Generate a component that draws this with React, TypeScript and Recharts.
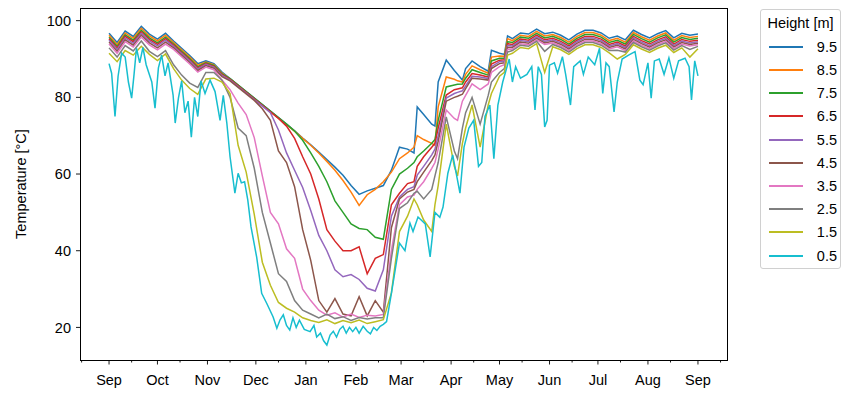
import { LineChart, Line, XAxis, YAxis } from "recharts";

const FONT = '"Liberation Sans", Arial, Helvetica, sans-serif';

// days since 1 Sep (shared grid for the upper heights)
const days = [
  0, 5, 10, 15, 20, 25, 30, 35, 40, 45, 50, 55, 60, 65, 70, 75, 80, 85, 90, 95,
  100, 105, 110, 115, 120, 125, 130, 135, 140, 145, 150, 155, 160, 165, 170, 175, 180, 185,
  189, 191, 195, 200, 202, 204, 209, 214, 216, 219, 221, 225, 230, 235, 237, 242, 245, 247,
  250, 255, 260, 265, 270, 275, 280, 285, 290, 295, 300, 305, 310, 315, 320, 325, 330, 335,
  340, 345, 350, 355, 360, 365,
];

const h95 = [
  96.7, 94.3, 97.3, 95.9, 98.5, 96.5, 95.2, 96.7, 94.7, 92.8, 90.9, 88.8, 89.5, 88.8, 86.6, 84.9, 83.2, 81.5, 79.8, 78.1,
  76.4, 74.7, 73.0, 71.3, 69.4, 67.6, 65.7, 63.8, 61.8, 59.7, 57.0, 54.7, 55.6, 56.3, 57.0, 61.0, 67.0, 66.5,
  65.5, 77.5, 75.5, 73.0, 72.5, 84.0, 89.7, 87.0, 86.0, 84.5, 87.5, 89.5, 88.0, 86.8, 92.3, 91.5, 91.2, 96.0,
  95.3, 96.8, 96.5, 97.8, 96.6, 97.0, 96.2, 95.0, 96.5, 97.5, 97.5, 96.8, 95.4, 96.0, 95.0, 97.5, 96.4, 95.5,
  96.6, 97.4, 95.5, 96.7, 96.2, 96.5,
];
const h85 = [
  96.2, 93.8, 96.8, 95.4, 98.0, 96.0, 94.7, 96.2, 94.3, 92.4, 90.5, 88.4, 89.2, 88.5, 86.3, 84.8, 83.1, 81.4, 79.7, 78.0,
  76.3, 74.6, 72.9, 71.2, 69.3, 67.5, 65.5, 63.3, 61.0, 58.3, 55.3, 51.8, 54.6, 56.0, 58.0, 60.5, 64.0, 65.5,
  67.0, 70.0, 69.0, 68.0, 67.5, 77.5, 85.3, 84.7, 84.3, 84.0, 86.0, 88.2, 87.2, 86.3, 90.5, 90.8, 90.7, 95.3,
  94.8, 96.2, 95.9, 97.2, 96.0, 96.4, 95.6, 94.4, 95.9, 96.9, 96.9, 96.2, 94.8, 95.4, 94.4, 96.9, 95.8, 94.9,
  96.0, 96.8, 94.9, 96.1, 95.6, 95.9,
];
const h75 = [
  95.7, 93.3, 96.3, 94.9, 97.5, 95.5, 94.2, 95.7, 93.9, 92.0, 90.1, 88.0, 89.0, 88.3, 86.1, 84.9, 83.2, 81.5, 79.8, 78.1,
  76.4, 74.7, 73.0, 71.2, 68.8, 65.5, 62.0, 58.0, 53.0, 50.0, 47.0, 45.8, 45.5, 43.5, 43.0, 56.0, 60.0, 61.5,
  63.0, 64.5, 66.0, 68.0, 69.0, 74.0, 82.7, 83.2, 83.4, 83.5, 85.0, 87.2, 86.5, 85.8, 89.5, 90.2, 90.2, 94.5,
  94.3, 95.7, 95.4, 96.7, 95.5, 95.9, 95.1, 93.9, 95.4, 96.4, 96.4, 95.7, 94.3, 94.9, 93.9, 96.4, 95.3, 94.4,
  95.5, 96.3, 94.4, 95.6, 95.1, 95.4,
];
const h65 = [
  95.3, 92.9, 95.9, 94.5, 97.1, 95.1, 93.8, 95.3, 93.6, 91.7, 89.8, 87.7, 88.8, 88.1, 85.9, 84.7, 83.0, 81.3, 79.6, 77.9,
  76.2, 74.5, 72.5, 69.3, 64.5, 60.0, 53.5, 45.5, 42.5, 40.0, 40.0, 41.0, 34.0, 38.0, 39.0, 52.0, 55.0, 57.5,
  58.0, 62.0, 64.5, 67.0, 68.0, 72.0, 80.6, 82.0, 82.2, 82.5, 84.0, 86.2, 85.8, 85.3, 88.7, 89.7, 89.8, 94.0,
  93.8, 95.2, 94.9, 96.2, 95.0, 95.4, 94.6, 93.4, 94.9, 95.9, 95.9, 95.2, 93.8, 94.4, 93.4, 95.9, 94.8, 93.9,
  95.0, 95.8, 93.9, 95.1, 94.6, 94.9,
];
const h55 = [
  94.9, 92.5, 95.5, 94.1, 96.7, 94.7, 93.4, 94.9, 93.3, 91.4, 89.5, 87.4, 88.6, 87.9, 85.7, 84.5, 82.8, 81.1, 79.4, 77.7,
  76.0, 71.5, 65.5, 61.0, 56.5, 50.5, 44.0, 40.0, 35.0, 33.2, 33.8, 32.5, 30.2, 29.5, 35.0, 49.0, 54.0, 56.0,
  56.7, 59.7, 62.0, 65.0, 66.5, 70.0, 79.8, 81.0, 81.3, 81.7, 83.0, 85.5, 85.3, 84.9, 88.0, 89.3, 89.4, 93.5,
  93.4, 94.8, 94.5, 95.8, 94.6, 95.0, 94.2, 93.0, 94.5, 95.5, 95.5, 94.8, 93.4, 94.0, 93.0, 95.5, 94.4, 93.5,
  94.6, 95.4, 93.5, 94.7, 94.2, 94.5,
];
const h45 = [
  94.4, 92.0, 95.0, 93.6, 96.2, 94.2, 92.9, 94.4, 92.9, 91.0, 89.1, 87.0, 88.3, 87.6, 85.4, 84.3, 82.6, 80.9, 79.2, 77.0,
  74.0, 66.0, 63.0, 56.7, 45.5, 37.5, 27.0, 24.0, 27.5, 23.5, 23.0, 28.0, 23.0, 27.0, 24.0, 46.0, 53.5, 55.3,
  56.0, 58.0, 60.5, 63.5, 65.0, 68.5, 79.0, 80.0, 80.3, 80.8, 82.3, 85.0, 84.8, 84.5, 87.5, 88.8, 89.0, 93.0,
  93.0, 94.4, 94.1, 95.4, 94.2, 94.6, 93.8, 92.6, 94.1, 95.1, 95.1, 94.4, 93.0, 93.6, 92.6, 95.1, 94.0, 93.1,
  94.2, 95.0, 93.1, 94.3, 93.8, 94.1,
];
const h35 = [
  93.9, 91.5, 94.5, 93.1, 95.7, 93.7, 92.4, 93.9, 92.5, 90.6, 88.7, 86.6, 87.9, 87.2, 84.5, 82.0, 78.5, 75.5, 69.5, 59.5,
  50.0, 47.0, 40.5, 38.0, 30.0, 27.0, 24.5, 23.2, 23.8, 22.7, 23.5, 22.6, 23.2, 23.0, 23.4, 40.0, 52.0, 54.0,
  54.5, 56.0, 58.0, 61.5, 63.0, 66.5, 76.7, 74.5, 74.0, 79.0, 80.5, 83.5, 82.0, 83.5, 86.5, 88.0, 88.5, 92.5,
  92.6, 94.0, 93.7, 95.0, 93.8, 94.2, 93.4, 92.2, 93.7, 94.7, 94.7, 94.0, 92.6, 93.2, 92.2, 94.7, 93.6, 92.7,
  93.8, 94.6, 92.7, 93.9, 93.4, 93.7,
];
const h25 = [
  92.9, 90.5, 93.5, 92.1, 94.7, 92.0, 90.6, 92.2, 88.5, 85.8, 83.7, 82.6, 86.5, 86.5, 84.5, 80.0, 72.0, 70.0, 61.5, 50.0,
  42.0, 34.0, 32.0, 27.0, 24.5, 23.5, 22.5, 23.5, 22.3, 22.8, 21.8, 22.6, 22.2, 22.5, 22.5, 38.0, 51.0, 52.5,
  55.0, 55.5, 53.5, 56.0, 59.5, 63.0, 74.9, 66.0, 64.0, 72.0, 76.0, 80.0, 73.0, 80.5, 84.0, 86.5, 87.5, 91.8,
  92.2, 93.6, 93.3, 94.6, 92.0, 93.8, 93.0, 91.8, 93.3, 94.3, 94.3, 93.6, 92.2, 92.3, 91.8, 94.3, 93.2, 92.3,
  93.4, 94.2, 92.3, 93.5, 92.5, 93.3,
];
const h15 = [
  91.5, 89.3, 92.2, 91.0, 93.3, 91.2, 89.6, 91.3, 87.5, 84.5, 82.3, 80.8, 84.8, 85.0, 84.0, 81.0, 67.5, 60.5, 49.5, 37.0,
  31.0, 26.5, 25.0, 24.0, 22.5, 21.8, 21.3, 22.0, 21.0, 21.8, 21.2, 21.9, 21.0, 21.5, 22.0, 29.0, 45.0, 49.0,
  53.5, 52.0, 48.0, 45.0, 52.0, 57.0, 73.0, 62.0, 59.5, 68.0, 72.0, 78.0, 67.0, 78.0, 81.0, 85.5, 86.5, 91.0,
  91.5, 93.0, 92.7, 94.0, 86.5, 93.2, 92.4, 91.2, 92.7, 93.7, 93.7, 93.0, 91.6, 90.0, 91.2, 93.7, 92.6, 91.7,
  92.8, 93.6, 91.7, 92.9, 90.5, 92.7,
];

// 0.5 m is noisier, so it has its own, denser day list
const cyanDays = [
  0, 1.6, 3.7, 5.6, 7.8, 10, 12, 14, 15.5, 17, 19, 21, 23, 26.5, 28.5, 30.6, 32.6, 34.7, 36.6, 39.7,
  41, 43, 45, 47, 49, 51, 53, 55, 57, 59.5, 62.6, 65.7, 68.8, 70.8, 73, 75, 78, 80, 82, 84,
  86, 88, 91.5, 94.6, 97.7, 101.7, 104, 106, 108, 110, 112, 114, 116, 118, 121, 124.6, 127, 128.7, 131, 133,
  135, 137, 139, 141, 143, 145, 147, 149, 151, 153, 155, 157.5, 160, 162, 164, 166, 168, 170, 172, 175,
  177, 180, 183.4, 186.5, 188.4, 191.5, 196, 199, 202, 205, 207, 210, 213, 217.5, 220, 223, 226, 229, 231, 233,
  236, 238.5, 241, 244, 246, 248, 250, 252, 255, 259, 262, 264, 266, 268, 270, 271.5, 273, 276, 278, 281,
  283, 286, 288, 292, 294, 297, 301, 304, 306, 308, 310, 313, 315, 318, 322, 326, 329, 331, 334, 336,
  338, 341, 344, 347, 350, 353, 357, 359.5, 361, 363, 365,
];
const cyanTemps = [
  88.8, 86.3, 75.0, 85.5, 91.5, 90.5, 84.0, 79.8, 86.0, 92.8, 89.0, 93.0, 88.5, 84.0, 77.2, 87.7, 91.0, 85.6, 89.0, 80.6,
  73.3, 79.8, 84.3, 76.0, 79.0, 69.6, 80.0, 75.0, 84.3, 81.0, 84.5, 81.5, 74.0, 80.5, 73.3, 64.5, 55.0, 60.2, 57.7, 58.0,
  53.2, 46.2, 38.3, 28.9, 26.3, 22.7, 19.8, 22.0, 23.3, 20.5, 19.3, 22.5, 20.0, 21.9, 19.5, 18.9, 20.5, 17.5, 18.5, 16.5,
  15.4, 18.0, 19.0, 17.5, 19.5, 20.3, 18.5, 20.0, 18.9, 20.0, 18.5, 20.3, 19.0, 18.3, 20.0, 19.2, 20.3, 20.8, 21.5, 28.9,
  34.1, 42.0, 40.0, 47.2, 45.0, 48.8, 47.0, 38.4, 50.0, 48.7, 51.4, 60.2, 65.0, 55.0, 67.0, 72.0, 74.0, 62.0, 63.0, 75.0,
  78.0, 64.0, 78.0, 84.0, 87.0, 90.0, 84.0, 88.0, 85.0, 86.0, 88.0, 76.7, 88.0, 86.0, 72.3, 74.0, 88.4, 89.0, 86.3, 90.6,
  86.0, 78.0, 88.0, 89.5, 86.0, 90.5, 88.5, 92.8, 81.0, 89.0, 88.0, 76.2, 84.0, 90.0, 91.0, 91.9, 84.5, 83.3, 89.0, 79.8,
  89.5, 90.0, 86.0, 90.3, 85.0, 89.5, 90.2, 88.0, 79.3, 89.5, 85.6,
];

const monthDays = [0, 30, 61, 91, 122, 153, 181, 212, 242, 273, 303, 334, 365];
const monthLabels = ["Sep", "Oct", "Nov", "Dec", "Jan", "Feb", "Mar", "Apr", "May", "Jun", "Jul", "Aug", "Sep"];
const midMonthDays = [-17, 14, 44, 75, 105, 136, 167, 195, 226, 256, 287, 317, 348, 379];
const tempTicks = [20, 40, 60, 80, 100];

const series = [
  { key: "h95", label: "9.5", color: "#1f77b4", values: h95 },
  { key: "h85", label: "8.5", color: "#ff7f0e", values: h85 },
  { key: "h75", label: "7.5", color: "#2ca02c", values: h75 },
  { key: "h65", label: "6.5", color: "#d62728", values: h65 },
  { key: "h55", label: "5.5", color: "#9467bd", values: h55 },
  { key: "h45", label: "4.5", color: "#8c564b", values: h45 },
  { key: "h35", label: "3.5", color: "#e377c2", values: h35 },
  { key: "h25", label: "2.5", color: "#7f7f7f", values: h25 },
  { key: "h15", label: "1.5", color: "#bcbd22", values: h15 },
];
const cyan = { key: "h05", label: "0.5", color: "#17becf" };
const legendItems = [...series, cyan];

// merge both day lists into one table for the chart
const rowMap = new Map<number, any>();
days.forEach((d, i) => {
  const row = rowMap.get(d) || { day: d };
  series.forEach((s) => {
    row[s.key] = s.values[i];
  });
  rowMap.set(d, row);
});
cyanDays.forEach((d, i) => {
  const row = rowMap.get(d) || { day: d };
  row[cyan.key] = cyanTemps[i];
  rowMap.set(d, row);
});
const rows = Array.from(rowMap.values()).sort((a, b) => a.day - b.day);

const allTicks = [...monthDays, ...midMonthDays].sort((a, b) => a - b);

function MonthTick(props: any) {
  const { x, y, payload } = props;
  const idx = monthDays.indexOf(payload.value);
  const major = idx >= 0;
  return (
    <g>
      <line x1={x} y1={y} x2={x} y2={y + (major ? 4.5 : 2.5)} stroke="#000" strokeWidth={0.9} />
      {major && (
        <text x={x} y={y + 25} textAnchor="middle" fill="#000" fontSize={14.5} fontFamily={FONT}>
          {monthLabels[idx]}
        </text>
      )}
    </g>
  );
}

export default function App() {
  return (
    <div style={{ position: "absolute", left: 0, top: 0, width: 844, height: 394, background: "#fff" }}>
      <LineChart width={844} height={394} data={rows} margin={{ top: 8, right: 117, bottom: 0, left: 0 }}>
        <XAxis
          dataKey="day"
          type="number"
          domain={[-18, 383]}
          ticks={allTicks}
          interval={0}
          height={34}
          axisLine={false}
          tickLine={false}
          tickSize={0}
          tickMargin={0}
          tick={<MonthTick />}
        />
        <YAxis
          type="number"
          domain={[11.5, 103.3]}
          ticks={tempTicks}
          width={80}
          axisLine={false}
          tickSize={4}
          tickMargin={5}
          tickLine={{ stroke: "#000", strokeWidth: 0.9 }}
          tick={{ fill: "#000", fontSize: 14.5, fontFamily: FONT }}
        />
        {series.map((s) => (
          <Line
            key={s.key}
            dataKey={s.key}
            stroke={s.color}
            strokeWidth={1.5}
            dot={false}
            activeDot={false}
            connectNulls
            type="linear"
            isAnimationActive={false}
          />
        ))}
        <Line
          dataKey={cyan.key}
          stroke={cyan.color}
          strokeWidth={1.5}
          dot={false}
          activeDot={false}
          connectNulls
          type="linear"
          isAnimationActive={false}
        />
      </LineChart>

      {/* plot frame */}
      <div
        style={{
          position: "absolute",
          left: 80,
          top: 8,
          width: 648,
          height: 353,
          border: "1px solid #000",
          boxSizing: "border-box",
          pointerEvents: "none",
        }}
      />

      <div
        style={{
          position: "absolute",
          left: 21,
          top: 184,
          transform: "translate(-50%, -50%) rotate(-90deg)",
          whiteSpace: "nowrap",
          fontFamily: FONT,
          fontSize: 14.5,
          color: "#000",
        }}
      >
        Temperature [°C]
      </div>

      <div
        style={{
          position: "absolute",
          left: 760,
          top: 9,
          width: 81,
          height: 260,
          border: "1px solid #d0d0d0",
          borderRadius: 3,
          boxSizing: "border-box",
          fontFamily: FONT,
          fontSize: 14.5,
          color: "#000",
        }}
      >
        <div style={{ position: "absolute", top: 4, left: 0, right: 0, textAlign: "center", lineHeight: "18px" }}>
          Height [m]
        </div>
        {legendItems.map((s, i) => (
          <div key={s.key} style={{ position: "absolute", top: 27.7 + 23.2 * i, left: 0, right: 0, height: 18 }}>
            <div
              style={{
                position: "absolute",
                left: 8,
                top: 8,
                width: 34,
                height: 2,
                background: s.color,
              }}
            />
            <span style={{ position: "absolute", right: 3, top: 0, lineHeight: "18px" }}>{s.label}</span>
          </div>
        ))}
      </div>
    </div>
  );
}
